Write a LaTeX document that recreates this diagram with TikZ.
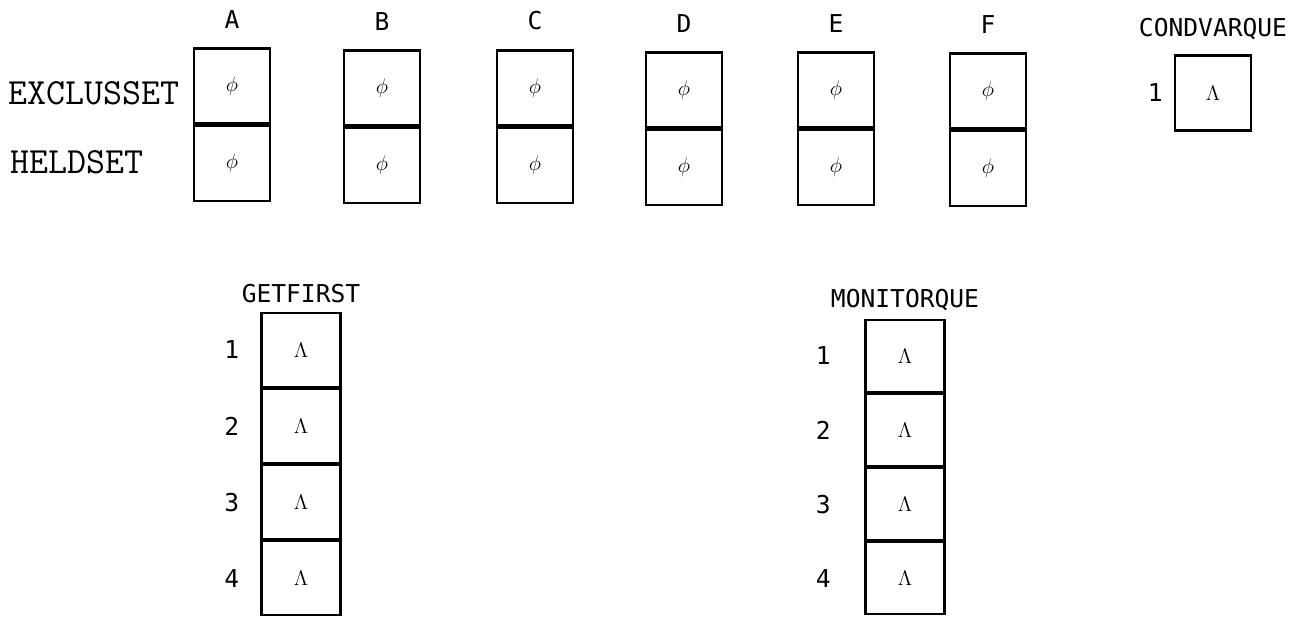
\documentclass[tikz,border=0pt]{standalone}
\usepackage{fontspec}
\usepackage{amsmath}
\newfontfamily\lblfont{DejaVu Sans Mono}
\usetikzlibrary{positioning}

\begin{document}
\begin{tikzpicture}[x=0.02cm, y=-0.02cm,
            cell/.style   ={rectangle, draw, line width=1.2pt, minimum width=1.52cm, minimum height=1.5cm,
                            inner sep=0pt, font=\fontsize{12}{12}\selectfont},
            quecell/.style={cell, minimum width=1.58cm, minimum height=1.48cm},
            collbl/.style ={font=\lblfont\fontsize{14}{14}\selectfont},
            rowlbl/.style ={anchor=west, font=\ttfamily\fontsize{21}{21}\selectfont},
            numlbl/.style ={font=\lblfont\fontsize{14}{14}\selectfont}
        ]
            \useasboundingbox (0,0) rectangle (1306,618);

            % --- Conjuntos A..F ---
            \node[cell] (a1) at (232,86) {$\phi$};
            \node[cell, below=0pt of a1] (a2) {$\phi$};
            \node[cell] (b1) at (382,88) {$\phi$};
            \node[cell, below=0pt of b1] (b2) {$\phi$};
            \node[cell] (c1) at (535,88) {$\phi$};
            \node[cell, below=0pt of c1] (c2) {$\phi$};
            \node[cell] (d1) at (684,90) {$\phi$};
            \node[cell, below=0pt of d1] (d2) {$\phi$};
            \node[cell] (e1) at (836,90) {$\phi$};
            \node[cell, below=0pt of e1] (e2) {$\phi$};
            \node[cell] (f1) at (988,91) {$\phi$};
            \node[cell, below=0pt of f1] (f2) {$\phi$};

            \node[collbl, above=0.26cm of a1] (lA) {A};
            \node[collbl, above=0.26cm of b1] (lB) {B};
            \node[collbl, above=0.26cm of c1] (lC) {C};
            \node[collbl, above=0.26cm of d1] (lD) {D};
            \node[collbl, above=0.26cm of e1] (lE) {E};
            \node[collbl, above=0.26cm of f1] (lF) {F};

            \node[rowlbl] (excl) at (2,93)  {EXCLUSSET};
            \node[rowlbl] (held) at (4,162) {HELDSET};

            % --- Cola CONDVARQUE ---
            \node[cell] (cv1) at (1213,93) {$\Lambda$};
            \node[collbl, above=0.18cm of cv1] (lcv) {CONDVARQUE};
            \node[numlbl, left=0.1cm of cv1] (ncv1) {1};

            % --- Cola GETFIRST ---
            \node[quecell] (g1) at (301,350) {$\Lambda$};
            \node[quecell, below=0pt of g1] (g2) {$\Lambda$};
            \node[quecell, below=0pt of g2] (g3) {$\Lambda$};
            \node[quecell, below=0pt of g3] (g4) {$\Lambda$};
            \node[collbl, above=0.06cm of g1] (lg) {GETFIRST};
            \node[numlbl, left=0.3cm of g1] (ng1) {1};
            \node[numlbl, left=0.3cm of g2] (ng2) {2};
            \node[numlbl, left=0.3cm of g3] (ng3) {3};
            \node[numlbl, left=0.3cm of g4] (ng4) {4};

            % --- Cola MONITORQUE ---
            \node[quecell, minimum height=1.44cm] (m1) at (905,356) {$\Lambda$};
            \node[quecell, minimum height=1.44cm, below=0pt of m1] (m2) {$\Lambda$};
            \node[quecell, minimum height=1.44cm, below=0pt of m2] (m3) {$\Lambda$};
            \node[quecell, minimum height=1.44cm, below=0pt of m3] (m4) {$\Lambda$};
            \node[collbl, above=0.04cm of m1] (lm) {MONITORQUE};
            \node[numlbl, left=0.55cm of m1] (nm1) {1};
            \node[numlbl, left=0.55cm of m2] (nm2) {2};
            \node[numlbl, left=0.55cm of m3] (nm3) {3};
            \node[numlbl, left=0.55cm of m4] (nm4) {4};

        \end{tikzpicture}
\end{document}
